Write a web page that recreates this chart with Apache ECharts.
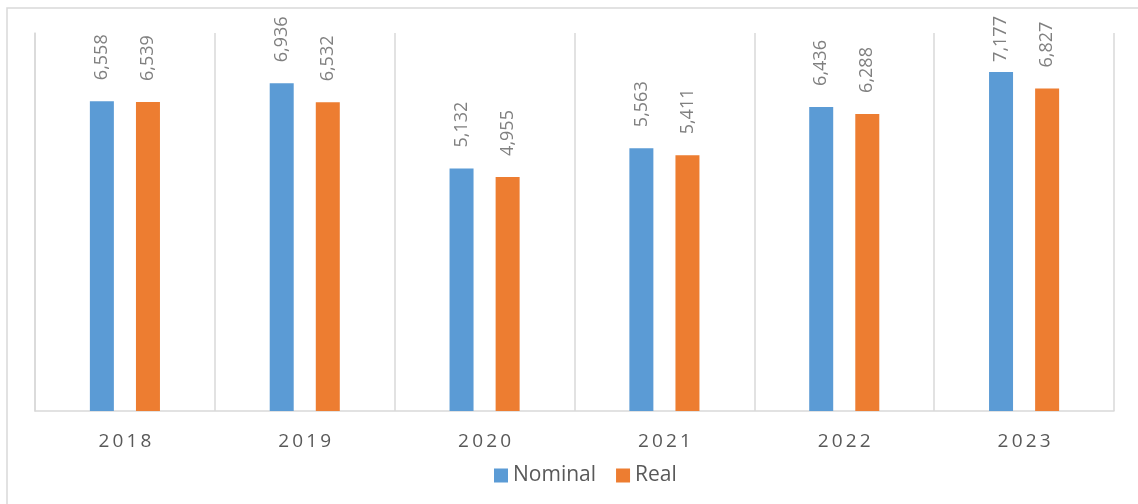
<!DOCTYPE html>
<html>
<head>
<meta charset="utf-8">
<script src="https://cdn.jsdelivr.net/npm/echarts@6/dist/echarts.min.js"></script>
<style>
  html, body { margin: 0; padding: 0; background: #fff; }
  #chart { width: 1138px; height: 504px; }
</style>
</head>
<body>
<div id="chart"></div>
<script>
const years = ["2018", "2019", "2020", "2021", "2022", "2023"];
const nominal = [6558, 6936, 5132, 5563, 6436, 7177];
const real = [6539, 6532, 4955, 5411, 6288, 6827];

const chart = echarts.init(document.getElementById("chart"));

const fmt = (v) => v.toLocaleString("en-US");

const valueLabel = {
  show: true,
  position: "top",
  distance: 21,
  rotate: 90,
  align: "left",
  verticalAlign: "middle",
  color: "#808080",
  fontFamily: "Open Sans",
  fontSize: 18,
  formatter: (p) => fmt(p.value),
};

// labels of very tall bars sit closer to the bar so they stay in the frame
const withLabels = (arr) =>
  arr.map((v) => (v > 7000 ? { value: v, label: { distance: 10 } } : v));

chart.setOption({
  animation: false,
  textStyle: { fontFamily: "Open Sans" },
  graphic: [
    {
      type: "rect",
      shape: { x: 7, y: 8, width: 1300, height: 700 },
      style: { fill: "none", stroke: "#d9d9d9", lineWidth: 1.5 },
      silent: true,
    },
  ],
  legend: {
    bottom: 13,
    left: 489,
    icon: "rect",
    itemWidth: 14,
    itemHeight: 14,
    itemGap: 20,
    textStyle: { color: "#595959", fontSize: 21 },
    data: ["Nominal", "Real"],
  },
  grid: {
    left: 35,
    right: 24,
    top: 33,
    bottom: 93,
  },
  xAxis: {
    type: "category",
    data: years,
    axisLine: { lineStyle: { color: "#d9d9d9", width: 1.5 } },
    axisTick: { show: false },
    axisLabel: {
      color: "#595959",
      fontSize: 19,
      margin: 21,
      formatter: (v) => v.split("").join("\u2009"),
    },
    splitLine: { show: true, lineStyle: { color: "#d9d9d9", width: 1.5 } },
  },
  yAxis: {
    type: "value",
    min: 0,
    max: 8000,
    axisLine: { show: true, lineStyle: { color: "#d9d9d9", width: 1.5 } },
    axisTick: { show: false },
    axisLabel: { show: false },
    splitLine: { show: false },
  },
  series: [
    {
      name: "Nominal",
      type: "bar",
      barWidth: 24,
      barGap: "92%",
      itemStyle: { color: "#5b9bd5" },
      label: valueLabel,
      data: withLabels(nominal),
    },
    {
      name: "Real",
      type: "bar",
      barWidth: 24,
      itemStyle: { color: "#ed7d31" },
      label: valueLabel,
      data: withLabels(real),
    },
  ],
});
</script>
</body>
</html>
